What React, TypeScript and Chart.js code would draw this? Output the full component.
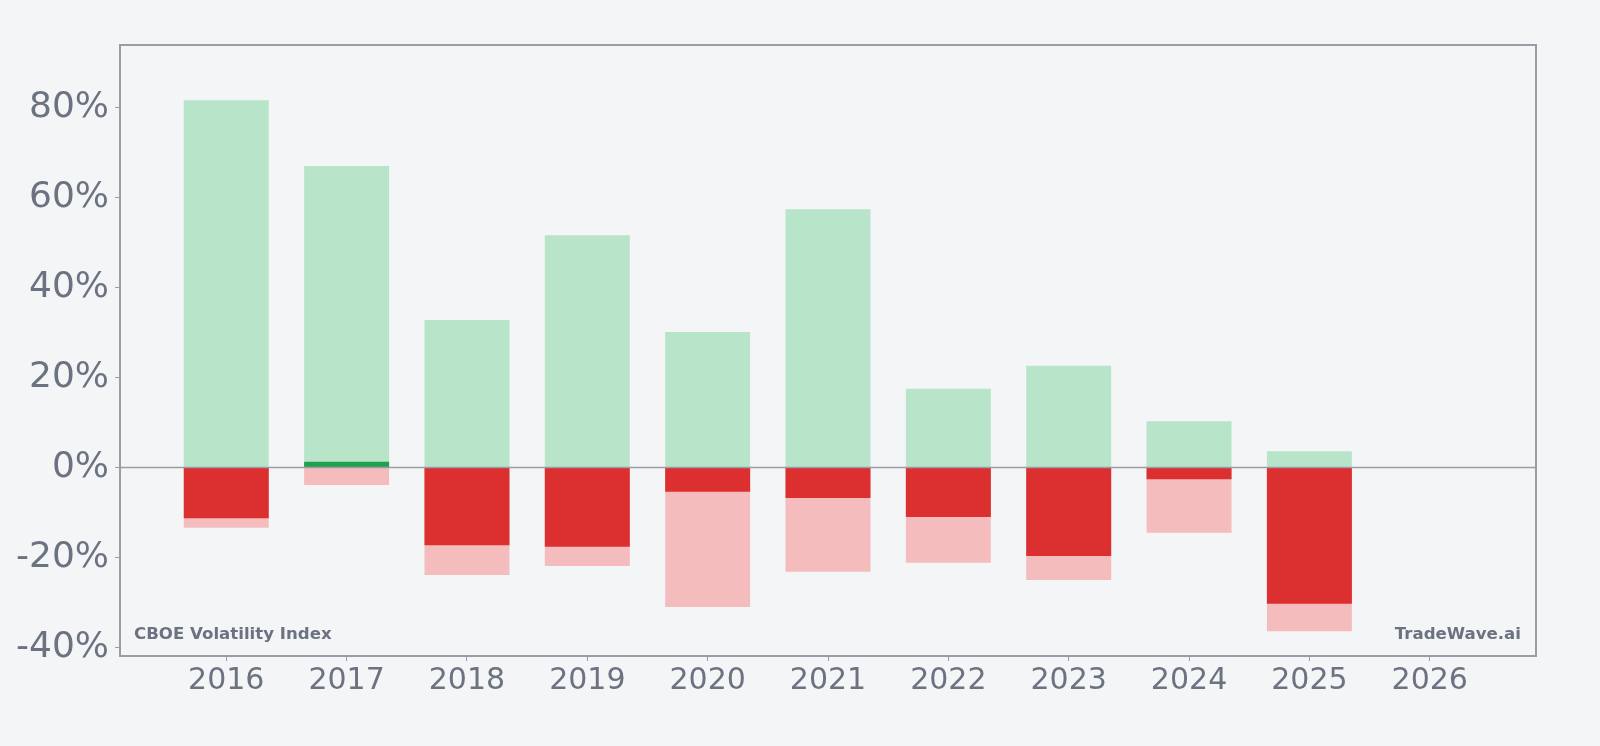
import React, { useEffect, useRef } from "react";
import { Chart, registerables } from "chart.js";

Chart.register(...registerables);

const years = [2016, 2017, 2018, 2019, 2020, 2021, 2022, 2023, 2024, 2025];
const xTickYears = [2016, 2017, 2018, 2019, 2020, 2021, 2022, 2023, 2024, 2025, 2026];
const maxUp = [81.6, 67.0, 32.8, 51.6, 30.1, 57.4, 17.5, 22.6, 10.3, 3.6];
const maxDown = [-13.4, -3.9, -23.9, -21.9, -31.0, -23.2, -21.2, -25.0, -14.5, -36.4];
const closeChange = [-11.3, 1.3, -17.3, -17.6, -5.4, -6.8, -11.0, -19.7, -2.6, -30.3];
const yTicks = [-40, -20, 0, 20, 40, 60, 80];
const titleLeft = "CBOE Volatility Index";
const titleRight = "TradeWave.ai";

const BG = "#f4f5f7";
const AXIS = "#9a9ca6";
const TEXT = "#6b7280";
const FONT = "'DejaVu Sans', sans-serif";

export default function App() {
  const ref = useRef<HTMLCanvasElement | null>(null);

  useEffect(() => {
    document.body.style.margin = "0";
    document.body.style.background = BG;
    const canvas = ref.current;
    if (!canvas) return;

    const overlay = {
      id: "overlay",
      beforeDraw(chart: any) {
        const c = chart.ctx;
        c.save();
        c.fillStyle = BG;
        c.fillRect(0, 0, chart.width, chart.height);
        c.restore();
      },
      afterDatasetsDraw(chart: any) {
        const c = chart.ctx;
        const a = chart.chartArea;
        const y0 = chart.scales.y.getPixelForValue(0);
        c.save();
        c.strokeStyle = AXIS;
        c.lineWidth = 1.6;
        c.beginPath();
        c.moveTo(a.left, y0);
        c.lineTo(a.right, y0);
        c.stroke();
        c.lineWidth = 2;
        c.strokeRect(a.left, a.top, a.right - a.left, a.bottom - a.top);
        c.fillStyle = TEXT;
        c.font = `bold 16.6px ${FONT}`;
        c.textBaseline = "alphabetic";
        c.textAlign = "left";
        c.fillText(titleLeft, a.left + 14, a.bottom - 17);
        c.textAlign = "right";
        c.fillText(titleRight, a.right - 15, a.bottom - 17);
        c.restore();
      },
    };

    const mk = (vals: number[]) => years.map((x, i) => ({ x, y: vals[i] }));

    const chart = new Chart(canvas, {
      type: "bar",
      data: {
        datasets: [
          {
            label: "Close",
            data: mk(closeChange),
            backgroundColor: closeChange.map((v) => (v >= 0 ? "#22a04b" : "#dc2f2f")),
            order: 0,
          },
          {
            label: "Max up",
            data: mk(maxUp),
            backgroundColor: "#b8e4c9",
            order: 1,
          },
          {
            label: "Max down",
            data: mk(maxDown),
            backgroundColor: "#f4bcbd",
            order: 2,
          },
        ],
      },
      plugins: [overlay],
      options: {
        animation: false,
        responsive: false,
        maintainAspectRatio: false,
        grouped: false,
        barPercentage: 0.706,
        categoryPercentage: 1,
        layout: { padding: { left: 0, top: 45, right: 64, bottom: 0 } },
        plugins: { legend: { display: false }, tooltip: { enabled: false } },
        scales: {
          x: {
            type: "linear",
            min: 2015.117,
            max: 2026.883,
            offset: false,
            afterBuildTicks: (s: any) => {
              s.ticks = xTickYears.map((v) => ({ value: v }));
            },
            afterFit: (s: any) => {
              s.height = 90;
            },
            grid: { offset: false, drawOnChartArea: false, drawTicks: true, tickLength: 5, color: AXIS },
            border: { display: false },
            ticks: {
              color: TEXT,
              font: { family: FONT, size: 30 },
              padding: 2,
              maxRotation: 0,
              autoSkip: false,
              callback: (v: any) => String(v),
            },
          },
          y: {
            type: "linear",
            min: -41.9,
            max: 93.9,
            afterBuildTicks: (s: any) => {
              s.ticks = yTicks.map((v) => ({ value: v }));
            },
            afterFit: (s: any) => {
              s.width = 120;
            },
            grid: { drawOnChartArea: false, drawTicks: true, tickLength: 5, color: AXIS },
            border: { display: false },
            ticks: {
              color: TEXT,
              font: { family: FONT, size: 36 },
              padding: 6,
              callback: (v: any) => `${v}%`,
            },
          },
        },
      } as any,
    });
    return () => chart.destroy();
  }, []);

  return (
    <div style={{ width: 1600, height: 746, background: BG }}>
      <canvas ref={ref} width={1600} height={746} style={{ display: "block" }} />
    </div>
  );
}
